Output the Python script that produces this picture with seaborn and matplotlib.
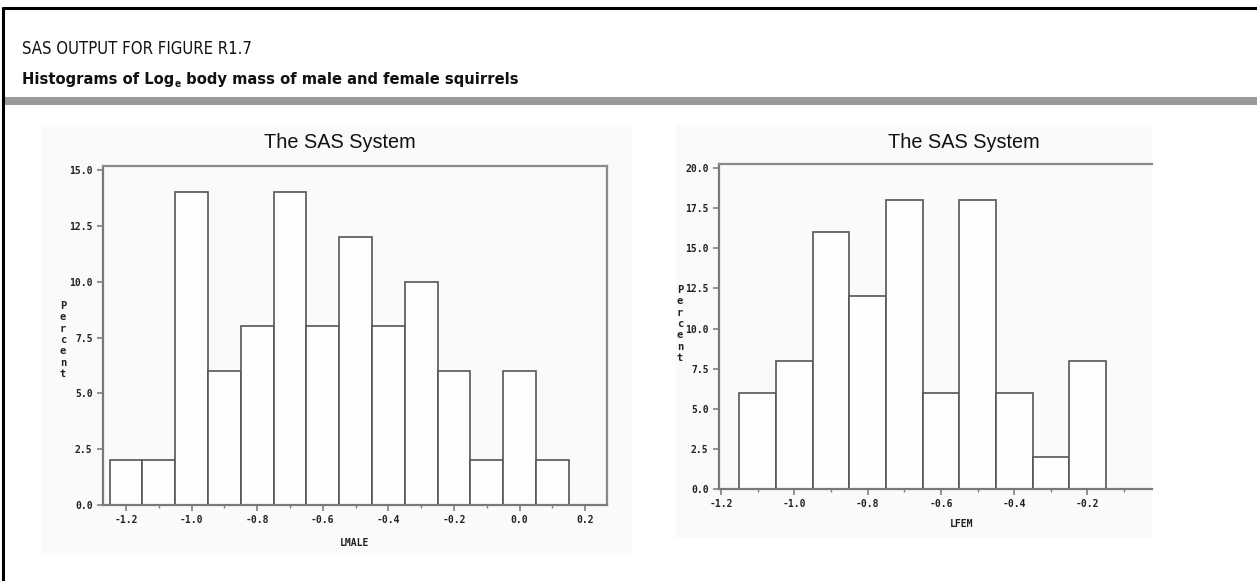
import numpy as np
import pandas as pd
import seaborn as sns
import matplotlib
matplotlib.use("Agg")
import matplotlib.pyplot as plt
from matplotlib import font_manager as fm
from matplotlib.patches import Rectangle
from matplotlib.lines import Line2D
from matplotlib.ticker import FixedLocator, FormatStrFormatter

# ---------------- data ----------------
male_mid = [-1.2, -1.1, -1.0, -0.9, -0.8, -0.7, -0.6, -0.5, -0.4, -0.3, -0.2, -0.1, 0.0, 0.1]
male_pct = [2, 2, 14, 6, 8, 14, 8, 12, 8, 10, 6, 2, 6, 2]
fem_mid = [-1.1, -1.0, -0.9, -0.8, -0.7, -0.6, -0.5, -0.4, -0.3, -0.2]
fem_pct = [6, 8, 16, 12, 18, 6, 18, 6, 2, 8]
male_xticks = [-1.2, -1.0, -0.8, -0.6, -0.4, -0.2, 0.0, 0.2]
fem_xticks = [-1.2, -1.0, -0.8, -0.6, -0.4, -0.2]
male_yticks = [0.0, 2.5, 5.0, 7.5, 10.0, 12.5, 15.0]
fem_yticks = [0.0, 2.5, 5.0, 7.5, 10.0, 12.5, 15.0, 17.5, 20.0]
bin_width = 0.1

header1 = "SAS OUTPUT FOR FIGURE R1.7"
header2a = "Histograms of Log"
header2b = "e"
header2c = " body mass of male and female squirrels"
panel_title = "The SAS System"
male_label = "LMALE"
fem_label = "LFEM"
y_label = "Percent"

# ---------------- setup ----------------
sns.set_theme(style="white")
plt.rcParams["font.family"] = ["DejaVu Sans"]
plt.rcParams["axes.unicode_minus"] = False

W, H = 1257, 581
fig = plt.figure(figsize=(W / 100, H / 100), dpi=100)
fig.patch.set_facecolor("white")
renderer = fig.canvas.get_renderer()


def text_width(s, **kw):
    t = fig.text(0, 0, s, **kw)
    w = t.get_window_extent(renderer).width
    t.remove()
    return w


def has_font(name):
    try:
        fm.findfont(fm.FontProperties(family=name), fallback_to_default=False)
        return True
    except Exception:
        return False


# pick a narrow sans for the page header
head_kw = dict(fontfamily="Roboto")
if has_font("Liberation Sans Narrow"):
    head_kw = dict(fontfamily="Liberation Sans Narrow")
else:
    wn = text_width(header1, fontfamily="DejaVu Sans", fontsize=14)
    wc = text_width(header1, fontfamily="DejaVu Sans", fontstretch="condensed", fontsize=14)
    if wc < 0.95 * wn:
        head_kw = dict(fontfamily="DejaVu Sans", fontstretch="condensed")

sas_font = "Liberation Sans"
mono = "DejaVu Sans Mono"


def fx(px):
    return px / W


def fy(py):
    return 1 - py / H


# ---------------- page decoration ----------------
fig.add_artist(Line2D([fx(3), fx(W)], [fy(8), fy(8)], transform=fig.transFigure,
                      color="black", lw=2.2))
fig.add_artist(Line2D([fx(3), fx(3)], [fy(8), fy(H)], transform=fig.transFigure,
                      color="black", lw=2.2))
fig.add_artist(Rectangle((fx(4), fy(105)), fx(W) - fx(4), fy(97) - fy(105),
                         transform=fig.transFigure, color="#9a9a9a", lw=0))

# header line 1
s1 = 14 * 231 / text_width(header1, fontsize=14, **head_kw)
fig.text(fx(22), fy(54), header1, fontsize=s1, va="baseline", color="#111", **head_kw)

# header line 2 (with subscript e)
kwb = dict(fontweight="bold", va="baseline", color="#111", **head_kw)
tot = (text_width(header2a, fontsize=14, **kwb) + text_width(header2b, fontsize=14 * 0.62, **kwb)
       + text_width(header2c, fontsize=14, **kwb))
s2 = 14 * 498 / tot
ta = fig.text(fx(22), fy(84), header2a, fontsize=s2, **kwb)
xa = ta.get_window_extent(renderer).x1
tb = fig.text(xa / W, fy(87), header2b, fontsize=s2 * 0.62, **kwb)
xb = tb.get_window_extent(renderer).x1
fig.text(xb / W, fy(84), header2c, fontsize=s2, **kwb)

# panel backgrounds
for (x0, y0, x1, y1) in [(41, 125, 632, 555), (676, 125, 1152, 538)]:
    fig.add_artist(Rectangle((fx(x0), fy(y1)), fx(x1) - fx(x0), fy(y0) - fy(y1),
                             transform=fig.transFigure, color="#fafafa", lw=0, zorder=-5))


def make_axes(px0, px1, py0, py1):
    return fig.add_axes([fx(px0), fy(py1), fx(px1) - fx(px0), fy(py0) - fy(py1)])


def style_axes(ax, xticks, yticks, xlim, ylim, right_spine=True):
    ax.set_facecolor("none")
    ax.set_xlim(*xlim)
    ax.set_ylim(*ylim)
    ax.xaxis.set_major_locator(FixedLocator(xticks))
    mids = [round(t + 0.1, 2) for t in xticks]
    ax.xaxis.set_minor_locator(FixedLocator(mids))
    ax.yaxis.set_major_locator(FixedLocator(yticks))
    ax.xaxis.set_major_formatter(FormatStrFormatter("%.1f"))
    ax.yaxis.set_major_formatter(FormatStrFormatter("%.1f"))
    ax.set_xlabel("")
    ax.set_ylabel("")
    for name, sp in ax.spines.items():
        sp.set_color("#8a8a8a" if name in ("top", "right") else "#7a7a7a")
        sp.set_linewidth(1.6)
    ax.spines["right"].set_visible(right_spine)
    ax.tick_params(axis="both", which="major", direction="out", length=4.5, width=1.2,
                   color="#808080", pad=3, bottom=True, left=True)
    ax.tick_params(axis="x", which="minor", direction="out", length=2.5, width=1.0,
                   color="#808080", bottom=True)
    for lab in ax.get_xticklabels() + ax.get_yticklabels():
        lab.set_fontfamily(mono)
        lab.set_fontweight("bold")
        lab.set_fontsize(7)
        lab.set_color("#222")
    ax.grid(False)


def draw_hist(ax, mids, pct):
    lo = min(mids) - bin_width / 2
    hi = max(mids) + bin_width / 2
    sns.histplot(x=mids, weights=pct, binwidth=bin_width, binrange=(lo, hi), stat="count",
                 ax=ax, color="#fdfdfd", edgecolor="#555555", linewidth=1.2, alpha=1)


# ---------------- left panel (male) ----------------
axL = make_axes(103, 607, 166, 505)
draw_hist(axL, male_mid, male_pct)
style_axes(axL, male_xticks, male_yticks, (-1.270, 0.2665), (0, 15.18))

# ---------------- right panel (female) ----------------
axR = make_axes(719, 1152, 164, 489)
draw_hist(axR, fem_mid, fem_pct)
style_axes(axR, fem_xticks, fem_yticks, (-1.2055, -0.024), (0, 20.25), right_spine=False)

# titles
ts = 14 * 152 / text_width(panel_title, fontfamily=sas_font, fontsize=14)
fig.text(fx(340), fy(143), panel_title, fontfamily=sas_font, fontsize=ts, ha="center", va="center", color="#111")
fig.text(fx(964), fy(143), panel_title, fontfamily=sas_font, fontsize=ts, ha="center", va="center", color="#111")

# x labels
fig.text(fx(355), fy(543), male_label, fontfamily=mono, fontweight="bold", fontsize=7,
         ha="center", va="center", color="#222")
fig.text(fx(962), fy(524), fem_label, fontfamily=mono, fontweight="bold", fontsize=7,
         ha="center", va="center", color="#222")

# stacked "Percent" labels
for cx, cy in [(63, 340), (680, 324)]:
    n = len(y_label)
    for i, ch in enumerate(y_label):
        yy = cy + (i - (n - 1) / 2) * 11.3
        fig.text(fx(cx), fy(yy), ch, fontfamily=mono, fontweight="bold", fontsize=7.5,
                 ha="center", va="center", color="#222")

fig.savefig("out.png", dpi=100, facecolor="white")
